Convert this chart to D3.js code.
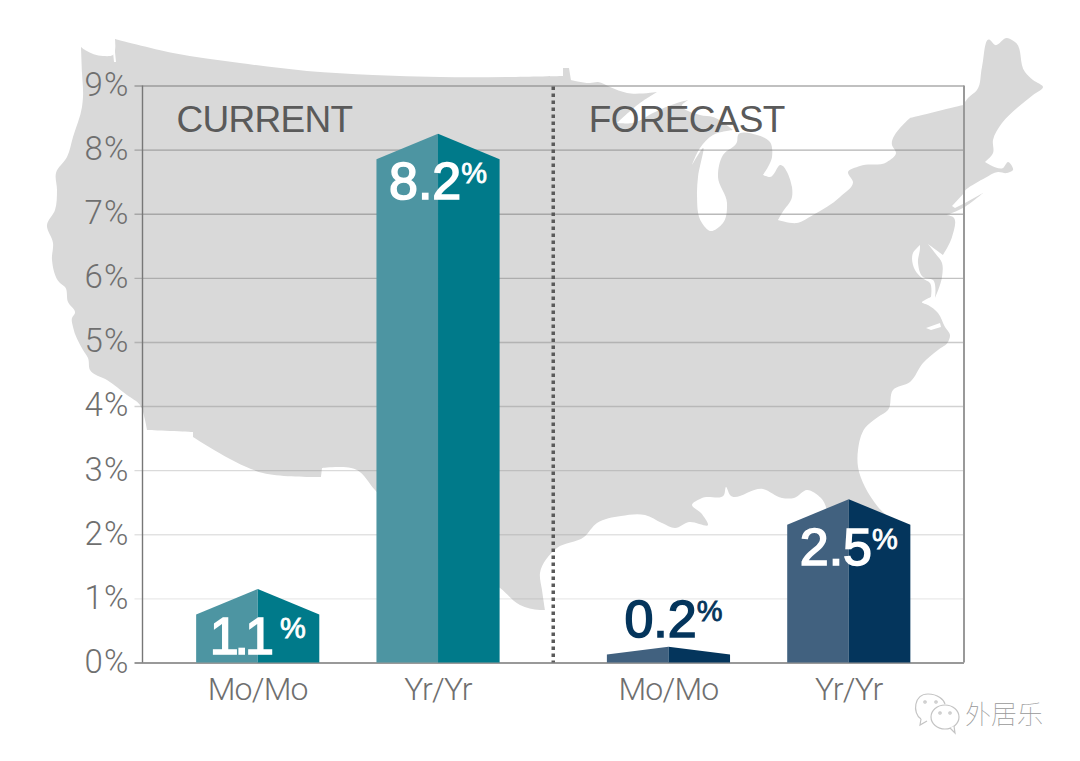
<!DOCTYPE html>
<html>
<head>
<meta charset="utf-8">
<script src="https://cdn.jsdelivr.net/npm/d3@7"></script>
<style>
  html, body { margin: 0; padding: 0; background: #fff; }
  svg { display: block; }
  .light { font-family: Roboto, "Liberation Sans", sans-serif; font-weight: 300; }
</style>
</head>
<body>
<svg id="svg" width="1080" height="761"></svg>
<script>
var ticks = [0, 1, 2, 3, 4, 5, 6, 7, 8, 9];
var groups = ["CURRENT", "FORECAST"];
var periods = ["Mo/Mo", "Yr/Yr"];
var currentValues = [1.1, 8.2];
var forecastValues = [0.2, 2.5];
var lightColours = ["#4d95a2", "#41617f"];
var darkColours = ["#007a8a", "#04355c"];

// backdrop outline of the lower 48, traced in page pixels
// (a point written twice stays a hard corner under the curve)
var usOutline = [[81,47],[81,47],[85,50],[103,56],[113,55],[115,39],[115,39],[173,53],[240,63],[307,71],[373,75],[440,77],[507,77],[563,76],[563,76],[563,68],[563,68],[569,68],[569,68],[571,80],[571,80],[590,83],[598,82],[610,87],[627,93],[657,92],[657,92],[640,103],[617,123],[617,123],[633,123],[653,113],[677,103],[688,100],[688,100],[682,105],[700,115],[713,117],[733,130],[733,130],[713,135],[700,148],[692,165],[692,165],[703,148],[698,177],[697,195],[702,223],[710,231],[723,223],[727,203],[718,177],[723,155],[737,142],[738,135],[757,135],[770,142],[772,157],[763,175],[763,175],[770,177],[780,165],[792,187],[792,197],[782,213],[778,220],[778,220],[797,223],[813,215],[840,197],[853,182],[848,172],[860,166],[887,162],[896,153],[892,145],[910,118],[910,118],[963,105],[963,105],[968,98],[977,90],[982,67],[990,40],[995,45],[1007,38],[1015,42],[1025,72],[1033,80],[1043,87],[1033,95],[1017,108],[1002,123],[993,140],[993,153],[985,162],[985,162],[1003,168],[1008,162],[1013,170],[1007,173],[998,172],[985,178],[965,192],[983,193],[983,193],[963,208],[947,215],[947,215],[953,217],[952,237],[943,255],[943,255],[928,244],[928,244],[935,253],[942,263],[942,277],[935,298],[935,298],[933,280],[923,277],[918,263],[920,248],[920,245],[920,245],[913,253],[915,270],[922,278],[930,283],[931,297],[931,297],[925,300],[922,302],[928,305],[938,313],[945,327],[950,335],[948,342],[938,350],[923,363],[910,382],[893,390],[888,410],[878,417],[865,428],[858,450],[858,467],[865,487],[878,507],[892,523],[892,535],[892,535],[830,535],[830,535],[821,498],[807,490],[794,498],[782,498],[763,489],[730,495],[726,487],[724,495],[702,498],[692,505],[701,513],[708,525],[689,522],[675,528],[662,523],[645,515],[621,516],[597,523],[584,537],[557,548],[540,573],[542,590],[545,610],[545,610],[540,610],[520,605],[500,588],[440,560],[375,490],[357,470],[322,468],[322,468],[321,477],[321,477],[263,473],[193,437],[193,437],[193,432],[193,432],[147,430],[147,430],[145,420],[140,405],[127,395],[107,380],[90,370],[88,358],[83,350],[73,327],[72,318],[75,313],[68,302],[65,287],[60,283],[52,260],[53,243],[47,225],[55,210],[57,190],[56,173],[67,157],[73,137],[82,107],[83,97],[82,73]];
var soundSliver = [[952,206],[965,192],[983,193],[965,203],[955,208]];
var pamlicoSliver = [[926,328],[940,323],[941,327],[931,330]];
var pugetSliver = [[115,42],[113,52],[114,62],[116,62],[115,52]];

var margin = { top: 85.5, right: 116, bottom: 98.5, left: 142.5 };
var width = 1080 - margin.left - margin.right;
var height = 761 - margin.top - margin.bottom;

var svg = d3.select("svg");

// map goes underneath everything else
var coast = d3.line().curve(d3.curveCatmullRomClosed.alpha(1));
svg.append("path").attr("d", coast(usOutline)).attr("fill", "#d9d9d9");
[soundSliver, pamlicoSliver, pugetSliver].forEach(s => {
  svg.append("path").attr("d", d3.line()(s) + "Z").attr("fill", "#fff");
});

var g = svg.append("g").attr("transform", "translate(" + margin.left + "," + margin.top + ")");

var y = d3.scaleLinear().domain([0, 9]).range([height, 0]);
var x0 = d3.scaleBand().domain(groups).range([0, width]);
var x1 = d3.scaleBand().domain(periods).range([0, x0.bandwidth()]).paddingInner(0.317).paddingOuter(0.2975);

// grid gets stronger towards the top
var gridOpacity = d3.scaleLinear().domain([1, 9]).range([0.16, 0.62]);

var yAxis = d3.axisLeft(y).tickValues(ticks).tickFormat(d => d + "%").tickSizeInner(-width).tickPadding(13);
var axisG = g.append("g").call(yAxis);
axisG.select(".domain").remove();
axisG.selectAll("line")
  .attr("x1", -8)
  .attr("stroke", "#777")
  .attr("stroke-width", 1.4)
  .attr("opacity", d => d === 0 ? 1 : gridOpacity(d));
axisG.selectAll("text")
  .attr("class", "light")
  .attr("font-size", 33)
  .attr("letter-spacing", 1.2)
  .attr("fill", "#6f6f6f")
  .attr("dy", "0.3em");

g.append("line").attr("y1", 0).attr("y2", height).attr("stroke", "#777").attr("stroke-width", 1.4);
g.append("line").attr("x1", width).attr("x2", width).attr("y1", 0).attr("y2", height).attr("stroke", "#999").attr("stroke-width", 2);

// dotted split between current and forecast
g.append("line")
  .attr("x1", x0("FORECAST")).attr("x2", x0("FORECAST"))
  .attr("y1", 1).attr("y2", height)
  .attr("stroke", "#5a5a5a").attr("stroke-width", 3.5).attr("stroke-dasharray", "3.5 3.5");

function roof(v, cx, bw) {
  var top = y(v) - 3;
  var drop = Math.min(25.5, (height - top) * 0.5);
  return { top: top, left: [[cx - bw / 2, height], [cx - bw / 2, top + drop], [cx, top], [cx, height]],
    right: [[cx, height], [cx, top], [cx + bw / 2, top + drop], [cx + bw / 2, height]] };
}

[currentValues, forecastValues].forEach((vals, gi) => {
  var name = groups[gi];
  var group = g.append("g").attr("transform", "translate(" + x0(name) + ",0)");

  var xAxis = d3.axisBottom(x1).tickSize(0).tickPadding(0);
  var xg = group.append("g").attr("transform", "translate(0," + height + ")").call(xAxis);
  xg.select(".domain").remove();
  xg.selectAll("text")
    .attr("class", "light")
    .attr("font-size", 32)
    .attr("fill", "#6f6f6f")
    .attr("letter-spacing", -0.8)
    .attr("dy", 0)
    .attr("y", 37);

  group.append("text")
    .attr("x", gi === 0 ? 34 : 35.5)
    .attr("y", 46.5)
    .attr("font-family", "Liberation Sans")
    .attr("font-size", 37)
    .attr("letter-spacing", -0.7)
    .attr("fill", "#5a5a5a")
    .text(name);

  vals.forEach((v, i) => {
    var cx = x1(periods[i]) + x1.bandwidth() / 2;
    var r = roof(v, cx, x1.bandwidth());
    group.append("path").attr("d", d3.line()(r.left) + "Z").attr("fill", lightColours[gi]);
    group.append("path").attr("d", d3.line()(r.right) + "Z").attr("fill", darkColours[gi]);

    // small bars get their number on top, in the bar colour
    var inside = height - r.top > 40;
    var col = inside ? "#fff" : darkColours[gi];
    var str = v.toFixed(1);
    var ones = str === "1.1"; // the ones sit tight in the original, % pushed off
    var label = group.append("text")
      .attr("x", inside ? cx : cx + 5)
      .attr("y", inside ? r.top + 65.5 : r.top - 10)
      .attr("text-anchor", "middle")
      .attr("font-family", "Liberation Sans")
      .attr("font-size", 52)
      .attr("fill", col)
      .attr("stroke", col)
      .attr("stroke-width", 1.6);
    label.append("tspan").attr("letter-spacing", ones ? -4 : 0).text(str);
    label.append("tspan").attr("font-size", 29).attr("dx", ones ? 10 : 0).attr("dy", -16).attr("stroke-width", 0.8).text("%");
  });
});

// wechat watermark
var mark = svg.append("g").attr("fill", "#fff").attr("stroke", "#c4c4c4").attr("stroke-width", 1.2);
mark.append("path").attr("d", "M921 719 C912 713 914 694 928 694 C938 694 944 700 945 704 M921 719 L920 725 L927 721");
mark.append("ellipse").attr("cx", 945).attr("cy", 717).attr("rx", 14).attr("ry", 12);
mark.append("path").attr("d", "M950 728 L955 733 L954 726");
[[925, 702], [936, 702], [940, 713], [950, 713]].forEach(p => {
  mark.append("circle").attr("cx", p[0]).attr("cy", p[1]).attr("r", 1.2);
});
svg.append("text")
  .attr("x", 965).attr("y", 724)
  .attr("font-family", "Noto Sans CJK SC")
  .attr("font-weight", 100)
  .attr("font-size", 26)
  .attr("fill", "#999")
  .text("外居乐");
</script>
</body>
</html>
